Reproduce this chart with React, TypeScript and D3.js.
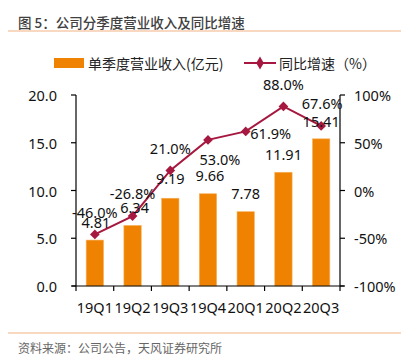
import React from "react";
import * as d3 from "d3";

const categories = ["19Q1", "19Q2", "19Q3", "19Q4", "20Q1", "20Q2", "20Q3"];
const revenue = [4.81, 6.34, 9.19, 9.66, 7.78, 11.91, 15.41];
const growth = [-46.0, -26.8, 21.0, 53.0, 61.9, 88.0, 67.6];
const leftTicks = [0, 5, 10, 15, 20];
const rightTicks = [-100, -50, 0, 50, 100];
// label placement tweaks (pixels)
const growthLabelOffset: [number, number][] = [[0, -22], [0, -23], [0, -22], [12, 19], [25, 2], [0, -22], [1, -23]];
const revenueLabelOffset: [number, number][] = [[1, -18], [2, -18], [0, -20], [2, -19], [0, -19], [0, -18], [0, -18]];

const W = 409, H = 358;
const L = 76, R = 340, T = 95, B = 286;
const FONT = "'Noto Sans', 'Liberation Sans', 'Noto Sans CJK SC', sans-serif";
const CJK = "'Noto Sans CJK SC', 'Noto Sans', sans-serif";
const ORANGE = "#EF8200";
const RED = "#A6183F";
const FS = 14.5;

export default function App() {
  const x = d3.scaleBand<string>().domain(categories).range([L, R]).paddingInner(0.54).paddingOuter(0.27);
  const yL = d3.scaleLinear().domain([0, 20]).range([B, T]);
  const yR = d3.scaleLinear().domain([-100, 100]).range([B, T]);
  const cx = (c: string) => (x(c) as number) + x.bandwidth() / 2;
  const line = d3.line<number>().x((_, i) => cx(categories[i])).y((d) => yR(d));
  const step = x.step();
  const boundaries = d3.range(categories.length + 1).map((i) => L + i * step);
  const diamond = d3.symbol().type(d3.symbolDiamond2 || d3.symbolDiamond).size(60)();
  const diamond2 = d3.symbol().type(d3.symbolDiamond).size(50)();

  return (
    <svg width={W} height={H} style={{ position: "absolute", left: 0, top: 0, background: "#fff" }}>
      <text x={18} y={28} fontFamily={CJK} fontSize={13.5} fill="#404040" fontWeight={500}>图 5：公司分季度营业收入及同比增速</text>
      <line x1={8} x2={401} y1={31} y2={31} stroke="#F4B183" strokeWidth={1.2} />

      {/* legend */}
      <rect x={54} y={58} width={30} height={10} fill={ORANGE} />
      <text x={88} y={63} dominantBaseline="central" fontFamily={CJK} fontSize={14} fill="#222">单季度营业收入(亿元)</text>
      <line x1={244} x2={276} y1={63} y2={63} stroke={RED} strokeWidth={2} />
      <path d={diamond2 as string} transform="translate(260,63)" fill={RED} />
      <text x={279} y={63} dominantBaseline="central" fontFamily={CJK} fontSize={14} fill="#222">同比增速（%）</text>

      {/* bars */}
      {revenue.map((v, i) => (
        <rect key={i} x={x(categories[i])} y={yL(v)} width={x.bandwidth()} height={B - yL(v)} fill={ORANGE} stroke="#F6B25F" strokeWidth={0.6} />
      ))}

      {/* axes */}
      <line x1={L} x2={L} y1={T} y2={B} stroke="#000" strokeWidth={1.2} />
      {leftTicks.map((t) => (
        <g key={t}>
          <line x1={L - 5} x2={L} y1={yL(t)} y2={yL(t)} stroke="#000" strokeWidth={1.2} />
          <text x={57} y={yL(t)} textAnchor="end" dominantBaseline="central" fontFamily={FONT} fontSize={FS} fill="#111">{t.toFixed(1)}</text>
        </g>
      ))}
      <line x1={R} x2={R} y1={T} y2={B} stroke="#000" strokeWidth={1.2} />
      {rightTicks.map((t) => (
        <g key={t}>
          <line x1={R} x2={R + 5} y1={yR(t)} y2={yR(t)} stroke="#000" strokeWidth={1.2} />
          <text x={354} y={yR(t)} textAnchor="start" dominantBaseline="central" fontFamily={FONT} fontSize={FS} fill="#111">{t + "%"}</text>
        </g>
      ))}
      <line x1={L - 4} x2={R + 4} y1={B} y2={B} stroke="#000" strokeWidth={1.2} />
      {boundaries.map((b, i) => (
        <line key={i} x1={b} x2={b} y1={B} y2={B + 5} stroke="#000" strokeWidth={1.2} />
      ))}
      {categories.map((c) => (
        <text key={c} x={cx(c)} y={307} textAnchor="middle" dominantBaseline="central" fontFamily={FONT} fontSize={FS} fill="#111">{c}</text>
      ))}

      {/* line */}
      <path d={line(growth) as string} fill="none" stroke={RED} strokeWidth={2} />
      {growth.map((g, i) => (
        <path key={i} d={diamond as string} transform={`translate(${cx(categories[i])},${yR(g)})`} fill={RED} />
      ))}

      {/* labels */}
      {revenue.map((v, i) => (
        <text key={"r" + i} x={cx(categories[i]) + revenueLabelOffset[i][0]} y={yL(v) + revenueLabelOffset[i][1]} textAnchor="middle" dominantBaseline="central" fontFamily={FONT} fontSize={FS} fill="#111">{v.toFixed(2)}</text>
      ))}
      {growth.map((g, i) => (
        <text key={"g" + i} x={cx(categories[i]) + growthLabelOffset[i][0]} y={yR(g) + growthLabelOffset[i][1]} textAnchor="middle" dominantBaseline="central" fontFamily={FONT} fontSize={FS} fill="#111">{g.toFixed(1) + "%"}</text>
      ))}

      <line x1={8} x2={401} y1={333} y2={333} stroke="#F4B183" strokeWidth={1.2} />
      <text x={18} y={347} dominantBaseline="central" fontFamily={CJK} fontSize={12} fill="#666">资料来源：公司公告，天风证券研究所</text>
    </svg>
  );
}
